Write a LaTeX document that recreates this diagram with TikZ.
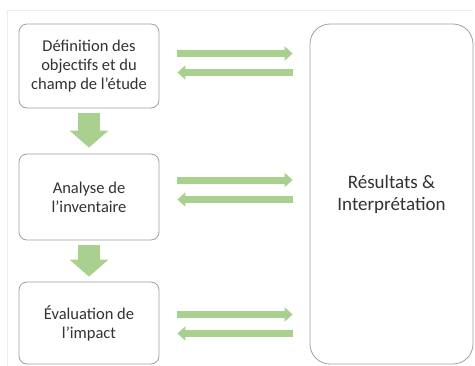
\documentclass[tikz,border=0pt]{standalone}
\usepackage{fontspec}
\setmainfont{Carlito}
\usetikzlibrary{arrows.meta}
\definecolor{grn}{RGB}{169,208,142}
\definecolor{boxgray}{RGB}{160,160,160}
\definecolor{txt}{RGB}{50,50,50}
\definecolor{frame}{RGB}{236,236,236}
\tikzset{
  stepbox/.style={draw=boxgray, line width=0.8pt, rounded corners=8pt, fill=white,
    minimum width=140pt, align=center, text=txt,
    font=\fontsize{16.5pt}{19pt}\selectfont, inner sep=0pt},
  bigbox/.style={draw=boxgray, line width=0.8pt, rounded corners=20pt, fill=white,
    minimum width=163pt, minimum height=340pt, align=center, text=txt,
    font=\fontsize{19pt}{22pt}\selectfont, inner sep=0pt},
  harrow/.style={draw=grn, line width=7pt, -{Triangle[width=14pt,length=8pt]}},
  varrow/.style={draw=grn, line width=22pt, -{Triangle[width=38pt,length=17pt]}},
}
\begin{document}
\begin{tikzpicture}[x=1pt,y=-1pt]
\useasboundingbox (0,0) rectangle (475,365);
\draw[frame, line width=0.8pt] (473,10) -- (7,10) -- (7,366);
\node[stepbox, minimum height=84pt] (b1) at (89,66) {Définition des\\objectifs et du\\champ de l’étude};
\node[stepbox, minimum height=86pt] (b2) at (89,197) {Analyse de\\l’inventaire};
\node[stepbox, minimum height=82pt] (b3) at (89,323) {Évaluation de\\l’impact};
\node[bigbox] (big) at (391.5,194) {Résultats \&\\Interprétation};
% down arrows
\draw[varrow] ([yshift=-5pt]b1.south) -- ([yshift=6pt]b2.north);
\draw[varrow] ([yshift=-5pt]b2.south) -- ([yshift=5pt]b3.north);
% horizontal arrows
\coordinate (l1) at ([xshift=18pt]b1.east);
\coordinate (r1) at ([xshift=-17pt]big.west);
\coordinate (l2) at ([xshift=18pt]b2.east);
\coordinate (l3) at ([xshift=18pt]b3.east);
\draw[harrow] (l1 |- 0,53.5) -- (r1 |- 0,53.5);
\draw[harrow] (r1 |- 0,72.5) -- (l1 |- 0,72.5);
\draw[harrow] (l2 |- 0,180) -- (r1 |- 0,180);
\draw[harrow] (r1 |- 0,199.5) -- (l2 |- 0,199.5);
\draw[harrow] (l3 |- 0,314.5) -- (r1 |- 0,314.5);
\draw[harrow] (r1 |- 0,333.5) -- (l3 |- 0,333.5);
\end{tikzpicture}
\end{document}
